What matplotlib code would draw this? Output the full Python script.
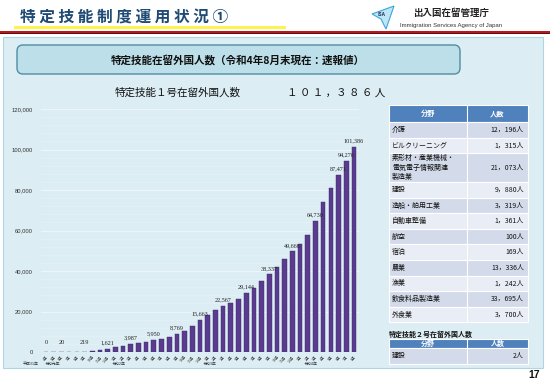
import matplotlib
matplotlib.use("Agg")
import matplotlib.pyplot as plt
from matplotlib.patches import Rectangle, FancyBboxPatch, Polygon
import numpy as np

plt.rcParams['font.family'] = ['Noto Sans CJK JP', 'DejaVu Sans']

# ---------------- data ----------------
month_labels = ["4月", "5月", "6月", "7月", "8月", "9月", "10月", "11月", "12月",
                "1月", "2月", "3月", "4月", "5月", "6月", "7月", "8月", "9月", "10月", "11月", "12月",
                "1月", "2月", "3月", "4月", "5月", "6月", "7月", "8月", "9月", "10月", "11月", "12月",
                "1月", "2月", "3月", "4月", "5月", "6月", "7月", "8月"]
values = [0, 0, 20, 50, 110, 219, 520, 1000, 1621,
          2300, 2950, 3987, 4450, 5100, 5950, 6550, 7400, 8769, 10300, 12800, 15663,
          18400, 20500, 22567, 24400, 26400, 29144, 31800, 34900, 38337, 41800, 45900, 49666,
          53500, 57800, 64730, 73900, 81000, 87471, 94276, 101386]
labeled_idx = [0, 2, 5, 8, 11, 14, 17, 20, 23, 26, 29, 32, 35, 38, 39, 40]
era_labels = ["平成31年", "令和元年", "令和2年", "令和3年", "令和4年"]
era_pos = [-1.95, 0.8, 9.5, 21.3, 34.4]

fields = ["介護", "ビルクリーニング", "素形材・産業機械・\n電気電子情報関連\n製造業", "建設",
          "造船・舶用工業", "自動車整備", "航空", "宿泊", "農業", "漁業",
          "飲食料品製造業", "外食業"]
counts = ["12，196人", "1，315人", "21，073人", "9，880人", "3，319人", "1，361人",
          "100人", "169人", "13，336人", "1，242人", "33，695人", "3，700人"]
fields2 = ["建設"]
counts2 = ["2人"]

W, H = 550, 384
fig = plt.figure(figsize=(W / 100, H / 100), dpi=100)

# overlay axes in pixel coordinates
bg = fig.add_axes([0, 0, 1, 1])
bg.set_xlim(0, W)
bg.set_ylim(H, 0)
bg.axis('off')

# header
bg.add_patch(Rectangle((14, 25.5), 272, 3.5, facecolor='#fff34d', edgecolor='none'))
bg.add_patch(Rectangle((0, 30.5), W, 2.6, facecolor='#c0141b', edgecolor='none'))
bg.add_patch(Rectangle((0, 33.1), W, 0.6, facecolor='#5a1010', edgecolor='none'))
bg.text(20, 17.5, "特 定 技 能 制 度 運 用 状 況 ①", fontsize=11.3, fontweight='bold',
        color='#1f4a73', va='center', ha='left')
# logo
bg.add_patch(Polygon([[372, 14], [394, 6], [386, 29], [381, 19]], closed=True,
                     facecolor='#bfe6f6', edgecolor='#3aa6d8', lw=0.8))
bg.text(381, 14, "ISA", fontsize=3.5, fontweight='bold', color='#1b2a5a', ha='center', va='center')
bg.text(413, 13, "出入国在留管理庁", fontsize=6.8, fontweight='bold', color='#222222',
        ha='left', va='center')
bg.text(400, 26, "Immigration Services Agency of Japan", fontsize=4.3, color='#333333',
        ha='left', va='center', family=['Liberation Sans'])

# main panel
bg.add_patch(Rectangle((3, 37), 540, 331, facecolor='#dcedf4', edgecolor='#b0d4e2', lw=0.8))
bg.add_patch(FancyBboxPatch((17, 45), 443, 29, boxstyle="round,pad=0,rounding_size=6",
                            facecolor='#bcdfe9', edgecolor='#4f8ea3', lw=1.0))
bg.text(238, 60, "特定技能在留外国人数（令和4年8月末現在：速報値）", fontsize=7.6,
        fontweight='bold', color='#111111', ha='center', va='center')
bg.text(115, 93, "特定技能１号在留外国人数", fontsize=7.6, color='#111111', ha='left', va='center')
bg.text(287, 93, "１ ０ １ ，３ ８ ６ 人", fontsize=7.6, color='#111111', ha='left', va='center')

# ---------------- table 1 ----------------
tx0, tx1, tx2 = 389, 467, 528
bg.add_patch(Rectangle((tx0, 105), tx2 - tx0, 17, facecolor='#4f81bd', edgecolor='white', lw=0.8))
bg.plot([tx1, tx1], [105, 122], color='white', lw=0.8)
bg.text((tx0 + tx1) / 2, 113.5, "分野", fontsize=5.2, fontweight='bold', color='white', ha='center', va='center')
bg.text((tx1 + tx2) / 2, 113.5, "人数", fontsize=5.2, fontweight='bold', color='white', ha='center', va='center')
row_edges = [122, 138, 153, 182, 198, 213, 229, 244, 260, 276, 291, 307, 322]
for i, (f, c) in enumerate(zip(fields, counts)):
    y0, y1 = row_edges[i], row_edges[i + 1]
    col = '#d3dbea' if i % 2 == 0 else '#e9edf5'
    bg.add_patch(Rectangle((tx0, y0), tx1 - tx0, y1 - y0, facecolor=col, edgecolor='white', lw=0.8))
    bg.add_patch(Rectangle((tx1, y0), tx2 - tx1, y1 - y0, facecolor=col, edgecolor='white', lw=0.8))
    bg.text(tx0 + 3, (y0 + y1) / 2, f, fontsize=5.0, color='#111111', ha='left', va='center',
            linespacing=1.3)
    bg.text(tx2 - 4, (y0 + y1) / 2, c, fontsize=5.0, color='#111111', ha='right', va='center')

# ---------------- table 2 ----------------
bg.text(tx0, 334, "特定技能２号在留外国人数", fontsize=5.0, fontweight='bold', color='#111111',
        ha='left', va='center')
bg.add_patch(Rectangle((tx0, 339), tx2 - tx0, 9, facecolor='#4f81bd', edgecolor='white', lw=0.8))
bg.plot([tx1, tx1], [339, 348], color='white', lw=0.8)
bg.text((tx0 + tx1) / 2, 343.5, "分野", fontsize=5.0, fontweight='bold', color='white', ha='center', va='center')
bg.text((tx1 + tx2) / 2, 343.5, "人数", fontsize=5.0, fontweight='bold', color='white', ha='center', va='center')
for i, (f, c) in enumerate(zip(fields2, counts2)):
    y0, y1 = 348, 364
    bg.add_patch(Rectangle((tx0, y0), tx1 - tx0, y1 - y0, facecolor='#d3dbea', edgecolor='white', lw=0.8))
    bg.add_patch(Rectangle((tx1, y0), tx2 - tx1, y1 - y0, facecolor='#d3dbea', edgecolor='white', lw=0.8))
    bg.text(tx0 + 3, (y0 + y1) / 2, f, fontsize=5.0, color='#111111', ha='left', va='center')
    bg.text(tx2 - 4, (y0 + y1) / 2, c, fontsize=5.0, color='#111111', ha='right', va='center')

bg.text(540, 375, "17", fontsize=7.5, color='#111111', ha='right', va='center',
        family=['Liberation Sans'], fontweight='bold')

# ---------------- chart ----------------
left_px, right_px, top_px, bot_px = 41.4, 358.6, 109, 352
ax = fig.add_axes([left_px / W, 1 - bot_px / H, (right_px - left_px) / W, (bot_px - top_px) / H])
ax.patch.set_alpha(0)
x = np.arange(len(values))
ax.set_xlim(-0.6, len(values) - 0.4)
ax.set_ylim(0, 120000)
for v in np.arange(0, 120001, 4000):
    major = v % 20000 == 0
    ax.axhline(v, color='#eef6fa' if major else '#e6f2f7', lw=0.7 if major else 0.5, zorder=0)
ax.bar(x, values, width=0.6, color='#5b3b8e', edgecolor='#3e2468', linewidth=0.3, zorder=2)
for i in labeled_idx:
    ax.annotate(f"{values[i]:,}", (x[i], max(values[i], 1800)), xytext=(0, 2.5),
                textcoords='offset points', ha='center', va='bottom', fontsize=4.4,
                color='#222222', family=['Liberation Serif'])
ax.set_yticks(np.arange(0, 120001, 20000))
ax.set_yticklabels([f"{v:,}" for v in np.arange(0, 120001, 20000)], fontsize=4.2,
                   family=['Liberation Sans'], color='#333333')
ax.set_xticks(x)
ax.set_xticklabels(month_labels, rotation=50, fontsize=2.6, ha='right', rotation_mode='anchor',
                   color='#333333')
ax.tick_params(axis='both', length=0)
ax.tick_params(axis='y', pad=6)
ax.tick_params(axis='x', pad=2)
for s in ax.spines.values():
    s.set_visible(False)
for lab, p in zip(era_labels, era_pos):
    ax.text(p, -5800, lab, fontsize=2.8, ha='center', va='center', color='#333333',
            transform=ax.transData, clip_on=False)

fig.savefig("out.png", dpi=100)
